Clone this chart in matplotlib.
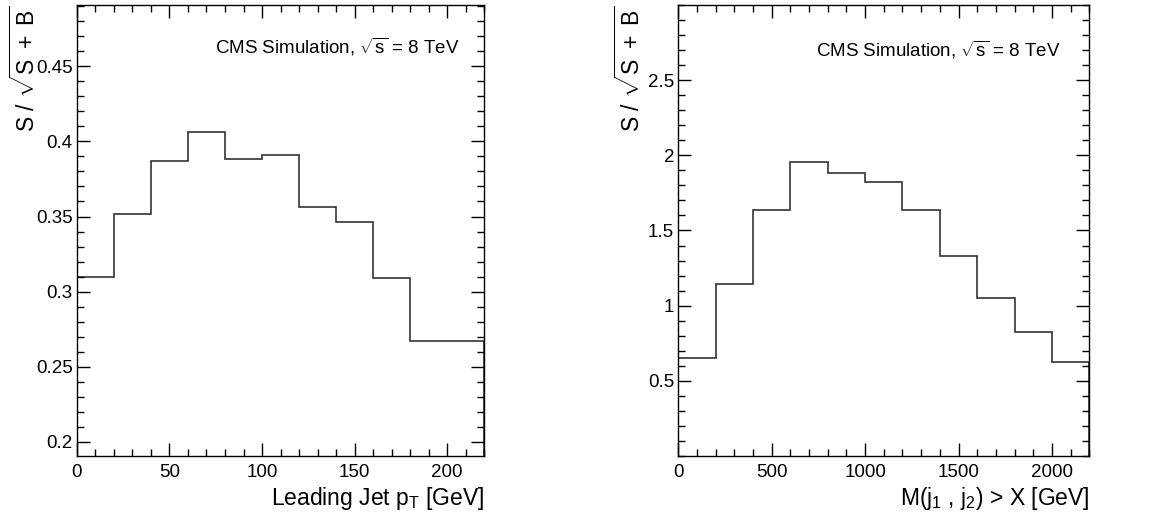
import matplotlib
matplotlib.use('Agg')
import matplotlib.pyplot as plt
from matplotlib.ticker import MultipleLocator

plt.rcParams['font.family'] = ['Liberation Sans', 'DejaVu Sans']
plt.rcParams['mathtext.fontset'] = 'custom'
plt.rcParams['mathtext.rm'] = 'Liberation Sans'
plt.rcParams['mathtext.it'] = 'Liberation Sans:italic'
plt.rcParams['mathtext.bf'] = 'Liberation Sans:bold'

# leading jet pT scan
pt_edges = [0, 20, 40, 60, 80, 100, 120, 140, 160, 180, 200, 220]
pt_vals = [0.310, 0.3515, 0.387, 0.4064, 0.388, 0.391, 0.356, 0.3462, 0.3089, 0.2675, 0.2675]
pt_yticks = [0.2, 0.25, 0.3, 0.35, 0.4, 0.45]
pt_ylabels = ['0.2', '0.25', '0.3', '0.35', '0.4', '0.45']

# dijet mass scan
mjj_edges = [0, 200, 400, 600, 800, 1000, 1200, 1400, 1600, 1800, 2000, 2200]
mjj_vals = [0.649, 1.145, 1.635, 1.953, 1.883, 1.82, 1.635, 1.331, 1.053, 0.825, 0.625]
mjj_yticks = [0.5, 1, 1.5, 2, 2.5]
mjj_ylabels = ['0.5', '1', '1.5', '2', '2.5']

ylab = r'S / $\sqrt{\mathrm{S\ +\ B}}$'
cms = r'CMS Simulation, $\sqrt{\mathrm{s}}$ = 8 TeV'

fig = plt.figure(figsize=(11.56, 5.21), dpi=100)
ax1 = fig.add_axes([0.0666, 0.1248, 0.3521, 0.8656])
ax2 = fig.add_axes([0.5868, 0.1248, 0.3555, 0.8656])

def style(ax, xmaj, xmin, ymin_step):
    ax.xaxis.set_major_locator(MultipleLocator(xmaj))
    ax.xaxis.set_minor_locator(MultipleLocator(xmin))
    ax.yaxis.set_minor_locator(MultipleLocator(ymin_step))
    ax.tick_params(which='both', direction='in', top=True, right=True, width=1, labelsize=13.5)
    ax.tick_params(which='major', length=9.5)
    ax.tick_params(which='minor', length=5)
    ax.tick_params(axis='x', pad=6)
    ax.tick_params(axis='y', pad=3)
    for sp in ax.spines.values():
        sp.set_linewidth(1)

ax1.stairs(pt_vals, pt_edges, color='#333333', linewidth=1.2)
ax1.set_xlim(0, 220)
ax1.set_ylim(0.1907, 0.4907)
ax1.set_yticks(pt_yticks)
ax1.set_yticklabels(pt_ylabels)
style(ax1, 50, 10, 0.01)
ax1.set_xlabel(r'Leading Jet p$_{\mathrm{T}}$ [GeV]', fontsize=16.5, loc='right')
ax1.xaxis.set_label_coords(1.0, -0.065)
ax1.set_ylabel(ylab, fontsize=16.5, loc='top', va='center')
ax1.yaxis.set_label_coords(-0.128, 1.0)
ax1.text(0.941, 0.907, cms, transform=ax1.transAxes, ha='right', va='center', fontsize=13.5)

ax2.stairs(mjj_vals, mjj_edges, color='#333333', linewidth=1.2)
ax2.set_xlim(0, 2200)
ax2.set_ylim(0, 3)
ax2.set_yticks(mjj_yticks)
ax2.set_yticklabels(mjj_ylabels)
style(ax2, 500, 100, 0.1)
ax2.set_xlabel(r'M(j$_{1}$ , j$_{2}$) > X [GeV]', fontsize=16.5, loc='right')
ax2.xaxis.set_label_coords(1.0, -0.065)
ax2.set_ylabel(ylab, fontsize=16.5, loc='top', va='center')
ax2.yaxis.set_label_coords(-0.1175, 1.0)
ax2.text(0.929, 0.90, cms, transform=ax2.transAxes, ha='right', va='center', fontsize=13.5)

fig.savefig('out.png', dpi=100)
